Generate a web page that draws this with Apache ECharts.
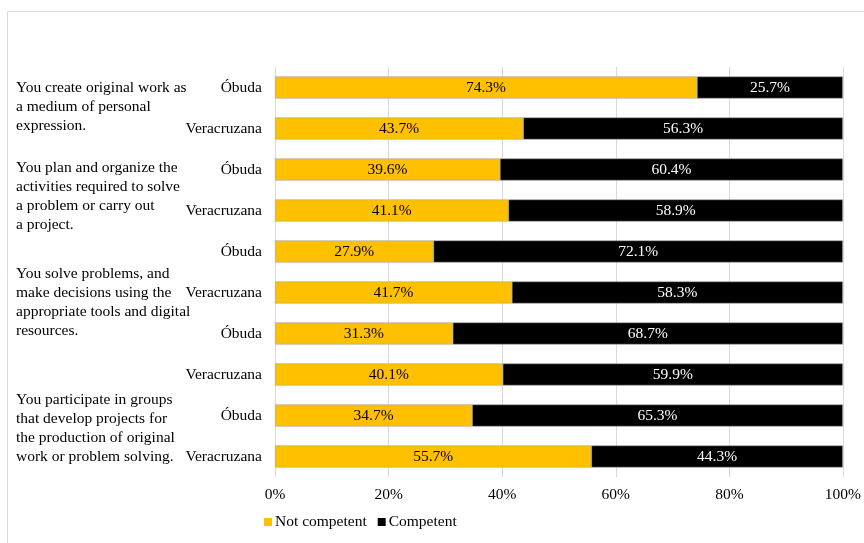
<!DOCTYPE html>
<html>
<head>
<meta charset="utf-8">
<script src="https://cdn.jsdelivr.net/npm/echarts@6/dist/echarts.min.js"></script>
<style>html,body{margin:0;padding:0;background:#fff}#c{width:864px;height:543px}</style>
</head>
<body>
<div id="c"></div>
<script>
const categories = ['Óbuda','Veracruzana','Óbuda','Veracruzana','Óbuda','Veracruzana','Óbuda','Veracruzana','Óbuda','Veracruzana'];
const notCompetent = [74.3, 43.7, 39.6, 41.1, 27.9, 41.7, 31.3, 40.1, 34.7, 55.7];
const competent = [25.7, 56.3, 60.4, 58.9, 72.1, 58.3, 68.7, 59.9, 65.3, 44.3];
const groupLabels = [
  'You create original work as\na medium of personal\nexpression.',
  'You plan and organize the\nactivities required to solve\na problem or carry out\na project.',
  'You solve problems, and\nmake decisions using the\nappropriate tools and digital\nresources.',
  'You participate in groups\nthat develop projects for\nthe production of original\nwork or problem solving.'
];
const groupTops = [78, 158, 264, 390];
const FONT = '"Liberation Serif", "Times New Roman", serif';
const FS = 15.5;

const chart = echarts.init(document.getElementById('c'), null, {renderer: 'canvas'});
const graphics = [{
  type: 'rect', left: 5, top: 9, silent: true,
  shape: {width: 880, height: 560},
  style: {fill: 'none', stroke: '#d9d9d9', lineWidth: 1}
}];
groupLabels.forEach((t, i) => graphics.push({
  type: 'text', left: 16, top: groupTops[i],
  style: {text: t, font: FS + 'px ' + FONT, fill: '#000', lineHeight: 19}
}));

chart.setOption({
  animation: false,
  textStyle: {fontFamily: FONT},
  grid: {left: 275, right: 21, top: 67, bottom: 66, containLabel: false},
  legend: {
    left: 259, top: 509, icon: 'rect', itemWidth: 8, itemHeight: 8, itemGap: 11,
    itemStyle: {borderWidth: 0},
    textStyle: {fontFamily: FONT, fontSize: FS, color: '#000', padding: [0,0,0,-2]},
    data: ['Not competent', 'Competent']
  },
  xAxis: {
    type: 'value', min: 0, max: 100, interval: 20,
    axisLabel: {formatter: '{value}%', fontFamily: FONT, fontSize: FS, color: '#000', margin: 10},
    axisLine: {show: false}, axisTick: {show: false},
    splitLine: {show: true, lineStyle: {color: '#d9d9d9', width: 1}}
  },
  yAxis: {
    type: 'category', data: categories, inverse: true,
    axisLabel: {fontFamily: FONT, fontSize: FS, color: '#000', margin: 13},
    axisLine: {show: false}, axisTick: {show: false}
  },
  series: [
    {
      name: 'Not competent', type: 'bar', stack: 'a', data: notCompetent,
      barWidth: '54%',
      itemStyle: {color: '#FFC000', borderColor: '#a6a6a6', borderWidth: 0.6},
      label: {show: true, position: 'inside', formatter: p => p.value.toFixed(1) + '%',
        fontFamily: FONT, fontSize: FS, color: '#000'}
    },
    {
      name: 'Competent', type: 'bar', stack: 'a', data: competent,
      barWidth: '54%',
      itemStyle: {color: '#000000', borderColor: '#a6a6a6', borderWidth: 0.6},
      label: {show: true, position: 'inside', formatter: p => p.value.toFixed(1) + '%',
        fontFamily: FONT, fontSize: FS, color: '#fff'}
    }
  ],
  graphic: graphics
});
</script>
</body>
</html>
